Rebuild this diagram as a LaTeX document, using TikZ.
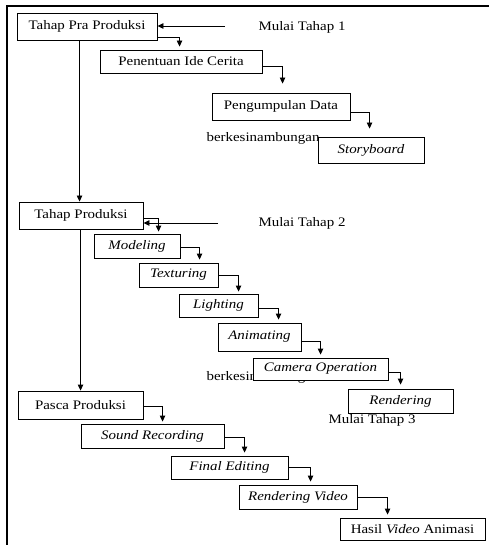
\documentclass[tikz,border=0pt]{standalone}
\usepackage{fontspec}
\setmainfont{Liberation Serif}[FakeStretch=1.15]
\usetikzlibrary{calc,arrows.meta}
\begin{document}
\begin{tikzpicture}[x=1pt,y=-1pt,
  box/.style={draw=black,line width=0.9pt,fill=white,inner sep=0pt,anchor=center,font=\fontsize{13}{15}\selectfont},
  lbl/.style={inner sep=0pt,anchor=center,font=\fontsize{13}{15}\selectfont},
  arr/.style={draw=black,line width=0.9pt,-{Triangle[length=6pt,width=5.5pt]}},
  frame/.style={draw=black,line width=2pt}]
\useasboundingbox (0,0) rectangle (488,545);
\draw[frame] (7,546) -- (7,6) -- (489,6);
% labels behind boxes
\node[lbl] (bk1) at (263,138) {berkesinambungan};
\node[lbl] (bk2) at (263,377) {berkesinambungan};
\node[lbl] (m1) at (302,27) {Mulai Tahap 1};
\node[lbl] (m2) at (302,223) {Mulai Tahap 2};
\node[lbl] (m3) at (372,420) {Mulai Tahap 3};
% boxes
\node[box,minimum width=140,minimum height=27] (pra) at (87,26.5) {Tahap Pra Produksi};
\node[box,minimum width=162,minimum height=23] (pen) at (181,61.5) {Penentuan Ide Cerita};
\node[box,minimum width=138,minimum height=27] (peng) at (281,106.5) {Pengumpulan Data};
\node[box,minimum width=106,minimum height=26] (story) at (371,150) {\textit{Storyboard}};
\node[box,minimum width=124,minimum height=27] (prod) at (81,215.5) {Tahap Produksi};
\node[box,minimum width=86,minimum height=24] (model) at (137,246) {\textit{Modeling}};
\node[box,minimum width=79,minimum height=24] (tex) at (178.5,275) {\textit{Texturing}};
\node[box,minimum width=79,minimum height=23] (light) at (218.5,305.5) {\textit{Lighting}};
\node[box,minimum width=83,minimum height=28] (anim) at (259.5,337) {\textit{Animating}};
\node[box,minimum width=135,minimum height=22] (cam) at (320.5,369) {\textit{Camera Operation}};
\node[box,minimum width=105,minimum height=24] (rend) at (400.5,401) {\textit{Rendering}};
\node[box,minimum width=125,minimum height=28] (pasca) at (80.5,405) {Pasca Produksi};
\node[box,minimum width=143,minimum height=24] (sound) at (152.5,436) {\textit{Sound Recording}};
\node[box,minimum width=117,minimum height=23] (final) at (229.5,467.5) {\textit{Final Editing}};
\node[box,minimum width=118,minimum height=24] (rvid) at (298,497) {\textit{Rendering Video}};
\node[box,minimum width=145,minimum height=22] (hasil) at (412.5,529) {Hasil \textit{Video} Animasi};
% start lines
\coordinate (s1) at (225,26);
\coordinate (s2) at (218,223);
\draw[arr] (s1) -- (pra.east |- s1);
\draw[arr] (s2) -- (prod.east |- s2);
% vertical main lines
\draw[arr] ($(pra.south west)+(63,0)$) -- ($(prod.north west)+(61,0)$);
\draw[arr] ($(prod.south west)+(62,0)$) -- ($(pasca.north west)+(63,0)$);
% elbow connectors
\draw[arr] ($(pra.south east)+(0,-3)$) -| ($(pen.north west)+(80,-3)$);
\draw[arr] ($(pen.south east)+(0,-7)$) -| ($(peng.north west)+(71,-9)$);
\draw[arr] ($(peng.south east)+(0,-8)$) -| ($(story.north west)+(52,-8)$);
\draw[arr] ($(prod.south east)+(0,-11)$) -| ($(model.north west)+(65,-2)$);
\draw[arr] ($(model.south east)+(0,-11)$) -| ($(tex.north west)+(61,-3)$);
\draw[arr] ($(tex.south east)+(0,-12)$) -| ($(light.north west)+(60,-2)$);
\draw[arr] ($(light.south east)+(0,-9)$) -| ($(anim.north west)+(61,-3)$);
\draw[arr] ($(anim.south east)+(0,-10)$) -| ($(cam.north west)+(68,-3)$);
\draw[arr] ($(cam.south east)+(0,-8)$) -| ($(rend.north west)+(53,-4)$);
\draw[arr] ($(pasca.south east)+(0,-13)$) -| ($(sound.north west)+(82,-2)$);
\draw[arr] ($(sound.south east)+(0,-11)$) -| ($(final.north west)+(74,-3)$);
\draw[arr] ($(final.south east)+(0,-12)$) -| ($(rvid.north west)+(72,-3)$);
\draw[arr] ($(rvid.south east)+(0,-12)$) -| ($(hasil.north west)+(48,-3)$);
\end{tikzpicture}
\end{document}
